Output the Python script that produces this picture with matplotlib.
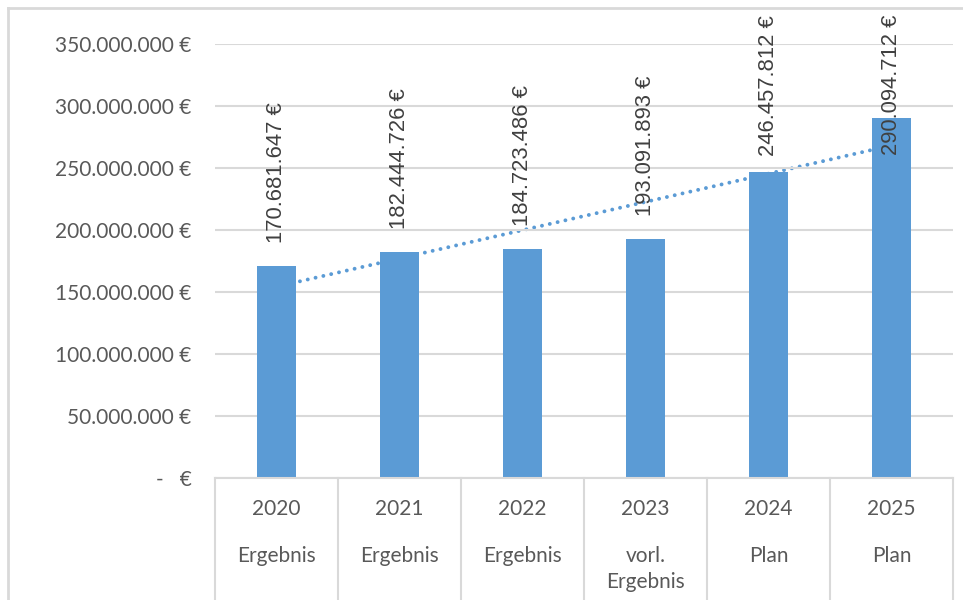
import matplotlib.pyplot as plt
import matplotlib.transforms as mtransforms
import numpy as np

years = ["2020", "2021", "2022", "2023", "2024", "2025"]
kinds = ["Ergebnis", "Ergebnis", "Ergebnis", "vorl.\nErgebnis", "Plan", "Plan"]
values = [170681647, 182444726, 184723486, 193091893, 246457812, 290094712]
yticks = [0, 50000000, 100000000, 150000000, 200000000, 250000000, 300000000, 350000000]

BAR = "#5B9BD5"
GRID = "#D9D9D9"
TXT = "#595959"

def euro(v):
    if v == 0:
        return "-   €"
    return f"{v:,.0f}".replace(",", ".") + " €"

W, H = 963, 600
fig = plt.figure(figsize=(W / 100, H / 100), dpi=100)
ax = fig.add_axes([215 / W, (H - 478) / H, (953 - 215) / W, 434 / H])

x = np.arange(len(values))
ax.set_xlim(-0.5, len(values) - 0.5)
ax.set_ylim(0, 350000000)

# linear trendline, drawn under the bars
k, d = np.polyfit(x, values, 1)
ax.plot(x, k * x + d, linestyle=(0, (0.01, 2.05)), color=BAR, lw=2.8,
        dash_capstyle="round", zorder=1)
ax.bar(x, values, width=0.31, color=BAR, zorder=2)

ax.set_yticks(yticks)
ax.set_yticklabels([euro(v) for v in yticks], fontfamily="Lato", fontsize=15, color=TXT)
ax.tick_params(axis="y", length=0, pad=17)
ax.set_xticks([])
ax.grid(axis="y", color=GRID, lw=1.5, zorder=0)
for s in ax.spines.values():
    s.set_visible(False)

# category table below the axis
tr = mtransforms.blended_transform_factory(ax.transData, fig.transFigure)
ax.plot([-0.5, 5.5], [0, 0], color=GRID, lw=1.5, clip_on=False, zorder=3)
for i in range(len(values) + 1):
    ax.plot([i - 0.5, i - 0.5], [(H - 478) / H, 0], color=GRID, lw=1.5,
            transform=tr, clip_on=False)
for i in range(len(values)):
    ax.text(i, (H - 509) / H, years[i], transform=tr, ha="center", va="center",
            fontfamily="Lato", fontsize=15, color=TXT)
    ax.text(i, (H - 546) / H, kinds[i], transform=tr, ha="center", va="top",
            fontfamily="Lato", fontsize=15, color=TXT, linespacing=1.38)

# data labels, rotated, kept inside the chart area
for i, v in enumerate(values):
    ypx = ax.transData.transform((0, v))[1] + 23
    t = ax.text(i, v, euro(v), rotation=90, ha="center", va="bottom",
                fontfamily="Liberation Sans", fontsize=15.8, color="#404040", zorder=4)
    fig.canvas.draw()
    bb = t.get_window_extent()
    top_lim = H - 15
    base = ypx
    if base + bb.height > top_lim:
        base = top_lim - bb.height
    yd = ax.transData.inverted().transform((0, base))[1]
    t.set_position((i, yd))

# outer frame of the chart area
fig.add_artist(plt.Line2D([8 / W, 8 / W], [0, (H - 8) / H], color=GRID, lw=2))
fig.add_artist(plt.Line2D([8 / W, 1], [(H - 8) / H, (H - 8) / H], color=GRID, lw=2))

fig.savefig("out.png", dpi=100)
